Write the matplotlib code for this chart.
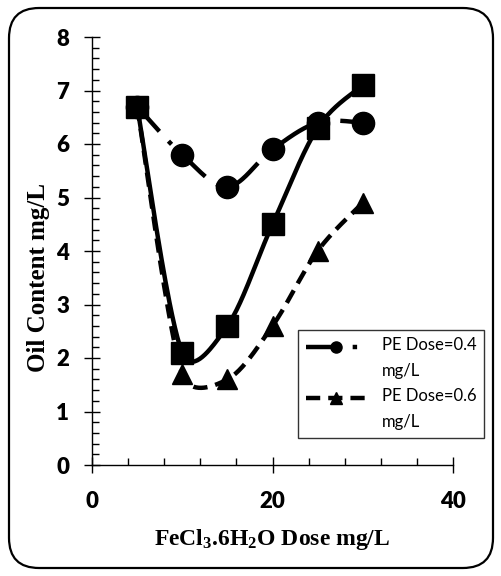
import numpy as np
import matplotlib
matplotlib.use("Agg")
import matplotlib.pyplot as plt
from matplotlib.lines import Line2D
from matplotlib.legend_handler import HandlerLine2D
from matplotlib.patches import FancyBboxPatch
from matplotlib.ticker import MultipleLocator

# ---- data ----
dose = [5, 10, 15, 20, 25, 30]
oil_pe04 = [6.7, 5.8, 5.2, 5.9, 6.4, 6.4]
oil_nope = [6.7, 2.1, 2.6, 4.5, 6.3, 7.1]
oil_pe06 = [6.7, 1.7, 1.6, 2.6, 4.0, 4.9]
x_ticks = [0, 20, 40]
y_ticks = [0, 1, 2, 3, 4, 5, 6, 7, 8]
legend_labels = ["PE Dose=0.4\nmg/L", "PE Dose=0.6\nmg/L"]
x_label = r"FeCl$_{3}$.6H$_{2}$O Dose mg/L"
y_label = "Oil Content mg/L"

plt.rcParams['mathtext.fontset'] = 'custom'
plt.rcParams['mathtext.rm'] = 'Liberation Serif:bold'
plt.rcParams['mathtext.bf'] = 'Liberation Serif:bold'
plt.rcParams['mathtext.it'] = 'Liberation Serif:bold'
plt.rcParams['mathtext.default'] = 'rm'

W, H = 502, 576
fig = plt.figure(figsize=(W / 100, H / 100), dpi=100)
ax = fig.add_axes([92 / W, (H - 465) / H, 361 / W, 428 / H])
ax.set_xlim(0, 40)
ax.set_ylim(0, 8)

# rounded frame around the figure
frame = FancyBboxPatch((9 / W, 8 / H), (W - 18) / W, (H - 16) / H,
                       boxstyle="round,pad=0,rounding_size=0.06",
                       transform=fig.transFigure, fill=False,
                       edgecolor='black', linewidth=1.6, zorder=0,
                       mutation_aspect=W / H)
fig.patches.append(frame)


def excel_smooth(ax, xs, ys, n=40):
    pts = ax.transData.transform(np.column_stack([xs, ys]))
    N = len(pts)
    out = [pts[0]]
    for i in range(N - 1):
        p0 = pts[i - 1] if i > 0 else pts[i]
        p1 = pts[i]
        p2 = pts[i + 1]
        p3 = pts[i + 2] if i + 2 < N else pts[i + 1]
        d12 = np.hypot(*(p2 - p1))
        d02 = np.hypot(*(p2 - p0))
        d13 = np.hypot(*(p3 - p1))
        f1 = 1 / 6
        f2 = 1 / 6
        if d02 > 0 and d02 / 6 > d12 / 2:
            f1 = d12 / 2 / d02
        if d13 > 0 and d13 / 6 > d12 / 2:
            f2 = d12 / 2 / d13
        c1 = p1 + f1 * (p2 - p0)
        c2 = p2 - f2 * (p3 - p1)
        t = np.linspace(0, 1, n)[1:, None]
        seg = (1 - t) ** 3 * p1 + 3 * (1 - t) ** 2 * t * c1 + 3 * (1 - t) * t ** 2 * c2 + t ** 3 * p2
        out.extend(seg)
    out = np.array(out)
    res = ax.transData.inverted().transform(out)
    return res[:, 0], res[:, 1]


LW = 3.2
ls_04 = (0, (7.5, 3.0, 1.0, 3.0))
ls_06 = (0, (3.2, 1.8))

cx, cy = excel_smooth(ax, dose, oil_pe04)
ax.plot(cx, cy, color='black', lw=LW, linestyle=ls_04, zorder=2)
ax.plot(dose, oil_pe04, 'o', color='black', ms=16, zorder=3)

tx, ty = excel_smooth(ax, dose, oil_pe06)
ax.plot(tx, ty, color='black', lw=LW, linestyle=ls_06, zorder=2)
ax.plot(dose, oil_pe06, '^', color='black', ms=15, zorder=3)

sx, sy = excel_smooth(ax, dose, oil_nope)
ax.plot(sx, sy, color='black', lw=LW, linestyle='-', zorder=4)
ax.plot(dose, oil_nope, 's', color='black', ms=16, zorder=5)

# axes styling
for s in ['top', 'right']:
    ax.spines[s].set_visible(False)
for s in ['left', 'bottom']:
    ax.spines[s].set_linewidth(1.0)
ax.set_xticks(x_ticks)
ax.set_yticks(y_ticks)
ax.xaxis.set_minor_locator(MultipleLocator(4))
ax.yaxis.set_minor_locator(MultipleLocator(0.2))
ax.tick_params(which='major', direction='inout', length=11, width=1.0)
ax.tick_params(axis='y', which='major', pad=11)
ax.tick_params(axis='x', which='major', pad=13)
ax.tick_params(which='minor', direction='in', length=5, width=1.0)
for lab in ax.get_xticklabels() + ax.get_yticklabels():
    lab.set_fontfamily('Lato')
    lab.set_fontweight('heavy')
    lab.set_fontsize(16)

fig.text(272 / W, 1 - 540 / H, x_label, ha='center', va='center',
         fontfamily='Liberation Serif', fontweight='bold', fontsize=17)
fig.text(39 / W, 1 - 278 / H, y_label, ha='center', va='center', rotation=90,
         fontfamily='Liberation Serif', fontweight='bold', fontsize=18)


class ShiftedHandler(HandlerLine2D):
    def create_artists(self, legend, orig_handle, xdescent, ydescent,
                       width, height, fontsize, trans):
        arts = super().create_artists(legend, orig_handle, xdescent, ydescent,
                                      width, height, fontsize, trans)
        for a in arts:
            yd = np.asarray(a.get_ydata(), dtype=float)
            a.set_ydata(yd + fontsize * 0.72)
        return arts


h1 = Line2D([], [], color='black', lw=LW, linestyle=ls_04, marker='o', ms=8)
h2 = Line2D([], [], color='black', lw=LW, linestyle=ls_06, marker='^', ms=8.5)
leg = fig.legend([h1, h2], legend_labels,
                 loc='upper left', bbox_to_anchor=(298 / W, 1 - 330 / H),
                 bbox_transform=fig.transFigure, borderaxespad=0,
                 prop={'family': 'Lato', 'size': 12},
                 frameon=True, fancybox=False, edgecolor='black',
                 handlelength=3.7, handletextpad=0.9, labelspacing=0.55,
                 borderpad=0.45, numpoints=1,
                 handler_map={Line2D: ShiftedHandler()})
leg.get_frame().set_linewidth(1.0)
for t in leg.get_texts():
    t.set_linespacing(1.75)

fig.savefig('out.png', dpi=100)
